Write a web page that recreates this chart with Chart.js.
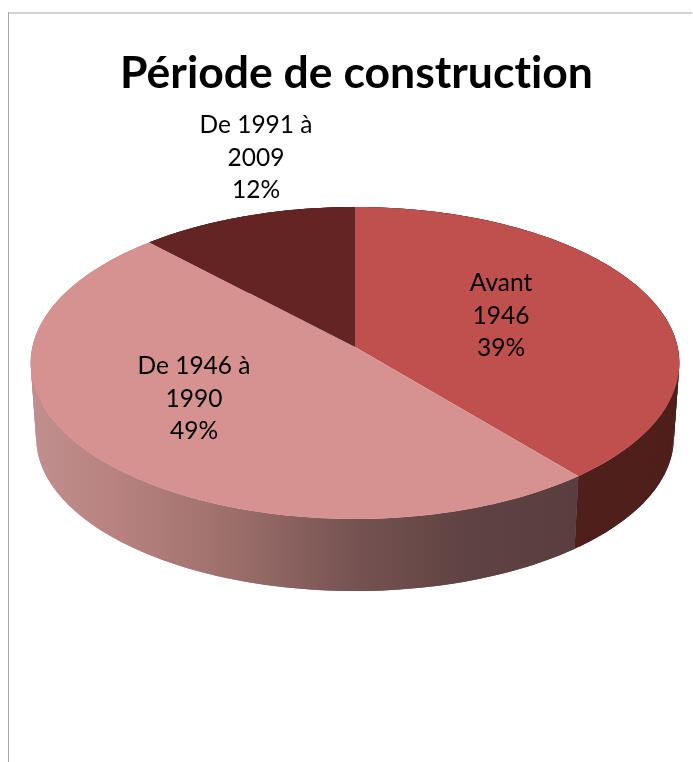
<!DOCTYPE html>
<html>
<head>
<meta charset="utf-8">
<style>html,body{margin:0;padding:0;background:#fff}canvas{display:block}</style>
<script src="https://cdn.jsdelivr.net/npm/chart.js@4/dist/chart.umd.min.js"></script>
</head>
<body>
<canvas id="c" width="693" height="762"></canvas>
<script>
const titleText = "Période de construction";
const categories = ["Avant 1946", "De 1946 à 1990", "De 1991 à 2009"];
const shares = [39, 49, 12];
const sliceColors = ["#C0504D", "#D69291", "#632423"];

const FONT = "Lato, Carlito, Calibri, sans-serif";
// perspective projection of the unit disc on to the page
const view = {ax: 355, ay: 347, A: 322.6, B: 154.4, k: -0.1026, dropY: 74.9, shrink: 0.983};
const labelAt = [{x: 501, y: 316}, {x: 194, y: 399}, {x: 256, y: 158}];

function project(a, lower) {
  const u = Math.cos(a), v = Math.sin(a), w = 1 + view.k * v;
  const s = lower ? view.shrink : 1;
  return {
    x: view.ax + s * view.A * u / w,
    y: view.ay + (lower ? view.dropY : 0) + s * view.B * v / w
  };
}
function rim(start, end) {
  const n = Math.max(2, Math.ceil((end - start) / (Math.PI / 180)));
  const out = [];
  for (let i = 0; i <= n; i++) out.push(start + (end - start) * i / n);
  return out;
}
function wallFill(ctx, i) {
  if (i === 0) return "#4F1F1C";
  if (i === 2) return "#3F1715";
  const g = ctx.createLinearGradient(30, 0, 577, 0);
  g.addColorStop(0, "#C08F8D");
  g.addColorStop(0.15, "#B88381");
  g.addColorStop(0.35, "#9F716D");
  g.addColorStop(0.6, "#755251");
  g.addColorStop(0.8, "#5F4242");
  g.addColorStop(1, "#5A3E3E");
  return g;
}
const pie3d = {
  id: "pie3d",
  beforeDraw(chart) {
    const ctx = chart.ctx;
    ctx.textRendering = "optimizeSpeed";
    ctx.save();
    ctx.fillStyle = "#D2D2D2";
    ctx.fillRect(8, 12, 684, 2);
    ctx.fillStyle = "#A8A8A8";
    ctx.fillRect(8, 12, 1, 750);
    ctx.restore();
  },
  beforeDatasetDraw(chart, args) {
    const ctx = chart.ctx, arcs = chart.getDatasetMeta(args.index).data;
    ctx.save();
    [2, 1, 0].forEach(i => {
      const arc = arcs[i], angles = rim(arc.startAngle, arc.endAngle);
      ctx.fillStyle = wallFill(ctx, i);
      for (let j = 0; j < angles.length - 1; j++) {
        const from = angles[Math.max(0, j - 1)], to = angles[j + 1];
        const a = project(from, false), b = project(to, false);
        const c = project(to, true), d = project(from, true);
        ctx.beginPath();
        ctx.moveTo(a.x, a.y);
        ctx.lineTo(b.x, b.y);
        ctx.lineTo(c.x, c.y);
        ctx.lineTo(d.x, d.y);
        ctx.closePath();
        ctx.fill();
      }
    });
    arcs.forEach(arc => {
      ctx.beginPath();
      ctx.moveTo(view.ax, view.ay);
      rim(arc.startAngle, arc.endAngle).forEach(a => { const p = project(a, false); ctx.lineTo(p.x, p.y); });
      ctx.closePath();
      ctx.fillStyle = arc.options.backgroundColor;
      ctx.fill();
    });
    ctx.restore();
    return false;
  },
  afterDatasetsDraw(chart) {
    const ctx = chart.ctx;
    ctx.save();
    ctx.font = "24.5px " + FONT;
    ctx.fillStyle = "#000";
    ctx.textAlign = "center";
    ctx.textBaseline = "middle";
    categories.forEach((name, i) => {
      const cut = name.lastIndexOf(" ");
      const lines = [name.slice(0, cut), name.slice(cut + 1), shares[i] + "%"];
      lines.forEach((t, j) => ctx.fillText(t, labelAt[i].x, labelAt[i].y + (j - 1) * 32.5));
    });
    ctx.restore();
  }
};

new Chart(document.getElementById("c"), {
  type: "pie",
  data: {labels: categories, datasets: [{data: shares, backgroundColor: sliceColors, borderWidth: 0}]},
  options: {
    responsive: false,
    animation: false,
    layout: {padding: {left: 20, top: 47}},
    plugins: {
      legend: {display: false},
      tooltip: {enabled: false},
      title: {display: true, text: titleText, color: "#000", padding: 0,
        font: {family: FONT, size: 44.5, weight: "bold", lineHeight: 1.2}}
    }
  },
  plugins: [pie3d]
});
</script>
</body>
</html>
